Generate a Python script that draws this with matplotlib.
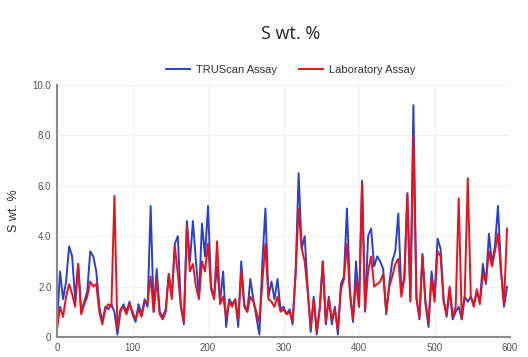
import numpy as np
import matplotlib.pyplot as plt

# --- Data (sample index every 4) ---
sample_step = 4
truscan = [0.5, 2.6, 1.5, 2.2, 3.6, 3.2, 1.5, 2.9, 1.0, 1.4,
           1.8, 3.4, 3.2, 2.6, 1.2, 0.6, 1.2, 1.1, 1.3, 1.0,
           0.1, 1.0, 1.3, 1.0, 1.4, 0.9, 0.6, 1.3, 0.9, 1.5,
           1.2, 5.2, 1.0, 2.7, 1.0, 0.8, 1.1, 2.5, 1.6, 3.7,
           4.0, 1.3, 0.5, 4.6, 3.0, 4.6, 3.0, 1.6, 4.5, 3.2,
           5.2, 2.0, 1.6, 2.8, 1.4, 2.6, 0.4, 1.5, 1.3, 1.5,
           0.4, 3.0, 1.3, 1.0, 2.3, 1.5, 0.8, 0.1, 3.0, 5.1,
           1.6, 2.2, 1.5, 2.3, 1.1, 1.2, 0.9, 1.1, 0.5, 2.6,
           6.5, 3.5, 4.0, 1.9, 0.2, 1.6, 0.1, 1.2, 3.0, 0.5,
           1.6, 0.5, 1.2, 0.1, 2.1, 2.4, 5.1, 1.8, 0.6, 3.0,
           1.2, 6.2, 1.0, 4.0, 4.3, 2.8, 3.2, 3.0, 2.7, 0.9,
           2.1, 3.0, 3.4, 4.9, 1.8, 2.4, 5.7, 1.5, 9.2, 1.6,
           0.7, 3.3, 1.3, 0.4, 2.6, 1.6, 3.9, 3.5, 1.5, 0.8,
           1.9, 0.7, 1.0, 1.2, 0.7, 1.6, 1.4, 1.6, 1.3, 1.8,
           1.4, 2.9, 2.1, 4.1, 2.9, 3.6, 5.2, 2.7, 1.2, 2.0]
laboratory = [0.3, 1.2, 0.8, 1.6, 2.1, 1.7, 1.2, 2.9, 0.9, 1.3,
              1.6, 2.2, 2.0, 2.1, 1.0, 0.5, 1.1, 1.3, 1.2, 5.6,
              0.3, 1.1, 1.2, 0.9, 1.3, 1.0, 0.7, 1.1, 0.8, 1.4,
              1.4, 2.4, 1.0, 2.3, 0.9, 0.7, 1.0, 2.5, 1.5, 3.6,
              2.5, 1.2, 0.6, 4.4, 2.6, 2.9, 2.0, 1.5, 3.0, 2.6,
              3.7, 1.9, 1.5, 3.8, 1.3, 1.6, 0.8, 1.4, 1.2, 1.5,
              0.7, 2.6, 1.2, 1.0, 1.6, 1.4, 1.0, 0.6, 2.2, 3.7,
              1.5, 1.4, 1.2, 1.6, 1.0, 1.1, 0.9, 1.0, 0.6, 2.5,
              5.1, 3.5, 3.0, 1.8, 0.4, 1.5, 0.2, 1.1, 3.0, 0.6,
              1.5, 0.7, 1.1, 0.3, 1.9, 2.3, 3.7, 1.7, 0.7, 2.2,
              1.2, 6.1, 1.1, 2.6, 3.2, 2.0, 2.1, 2.2, 2.5, 1.0,
              2.0, 2.4, 2.9, 3.1, 1.6, 2.3, 5.7, 1.4, 8.0, 1.5,
              0.8, 3.2, 1.4, 0.6, 2.3, 1.4, 3.4, 3.2, 1.4, 0.9,
              2.0, 0.8, 1.2, 5.5, 0.7, 1.7, 6.3, 1.6, 1.2, 1.9,
              1.3, 2.5, 2.2, 3.4, 2.8, 3.4, 4.1, 2.6, 1.3, 4.3]
series_labels = ["TRUScan Assay", "Laboratory Assay"]
y_ticks = [0, 2, 4, 6, 8, 10]
y_ticklabels = ["0", "2.0", "4.0", "6.0", "8.0", "10.0"]
x_ticks = [0, 100, 200, 300, 400, 500, 600]

sample = np.arange(len(truscan)) * sample_step

# --- Figure ---
fig = plt.figure(figsize=(5.28, 3.57), dpi=100)
ax = fig.add_axes([0.108, 0.056, 0.858, 0.706])

ax.plot(sample, truscan, color="#2b3fd1", linewidth=1.4, label=series_labels[0])
ax.plot(sample, laboratory, color="#e8121c", linewidth=1.4, label=series_labels[1])

ax.set_xlim(0, 600)
ax.set_ylim(0, 10)
ax.set_yticks(y_ticks)
ax.set_yticklabels(y_ticklabels)
ax.set_xticks(x_ticks)
ax.grid(True, color="#f0f0f0", linewidth=0.8)
ax.set_axisbelow(True)

for side in ["top", "right"]:
    ax.spines[side].set_visible(False)
for side in ["left", "bottom"]:
    ax.spines[side].set_color("#8a8a8a")
    ax.spines[side].set_linewidth(1.5)

ax.tick_params(length=0, labelsize=7, labelcolor="#555555", pad=4)
for lbl in ax.get_xticklabels() + ax.get_yticklabels():
    lbl.set_family("Liberation Sans")

ax.set_ylabel("S wt. %", fontsize=9, color="#333333", family="Liberation Sans", labelpad=9)

fig.suptitle("S wt. %", x=0.55, y=0.93, fontsize=13, family="Open Sans", color="#222222")

fig.legend(loc="center", bbox_to_anchor=(0.55, 0.805), ncol=2, frameon=False,
           prop={"family": "Liberation Sans", "size": 8}, handlelength=2.2,
           columnspacing=2.0, handletextpad=0.5, labelcolor="#333333")

plt.savefig("out.png", dpi=100)
